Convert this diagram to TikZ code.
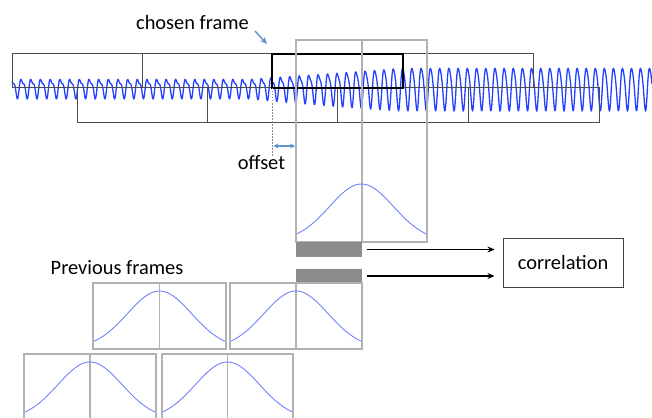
\documentclass[tikz,border=0pt]{standalone}
\usepackage{fontspec}
\setmainfont{Carlito}
\usepackage{tikz}
\usetikzlibrary{arrows.meta,calc,positioning}
\definecolor{waveblue}{RGB}{35,65,255}
\definecolor{gaussblue}{RGB}{110,130,255}
\definecolor{hintblue}{RGB}{90,150,205}
\definecolor{bargray}{RGB}{140,140,140}

\begin{document}
\begin{tikzpicture}[x=1pt, y=-1pt, font=\fontsize{20.4}{24}\selectfont,
  frame/.style={draw=black!70, line width=1pt},
  window/.style={draw=black!30, line width=1.2pt},
  gauss/.style={gaussblue, line width=0.9pt},
  bar/.style={fill=bargray, minimum width=66pt, minimum height=15pt, inner sep=0pt},
  arr/.style={-{Stealth[length=7pt,width=6pt]}, line width=1.2pt},
  hint/.style={hintblue, line width=1.4pt},
  declare function={ramp(\t)=min(max((\t-250)/150,0),1);
                    env(\t)=8.5+12.5*ramp(\t);
                    harm(\t)=0.4-0.25*ramp(\t);
                    cyc(\t)=mod(\t/9.8+0.0696*(\t/100)^2,1)*360;
                    bell(\t)=(exp(-(\t/32)^2/2)-0.127)/0.873;}]

\clip (0,0) rectangle (652,417);

% signal
\draw[waveblue, line width=1.3pt, line join=round]
  plot[domain=12:652, samples=1100] (\x, {87.5-env(\x)*(sin(cyc(\x))+harm(\x)*sin(2*cyc(\x)+50))});

% frames along the signal
\draw[frame] (12,54) rectangle (142,88);
\draw[frame] (142,54) rectangle (272,88);
\draw[frame] (402,54) rectangle (533,88);
\draw[frame] (77,88) rectangle (207,122);
\draw[frame] (207,88) rectangle (337,122);
\draw[frame] (337,88) rectangle (468,122);
\draw[frame] (468,88) rectangle (599,122);
\draw[line width=2.2pt] (272,54) rectangle (403,88);

\node (chosen) at (192.5,22) {chosen frame};
\coordinate (tail) at (255,31);
\coordinate (pick) at (267,44);
\draw[hint, -{Stealth[length=7pt,width=6pt]}] (tail) -- (pick);

% offset
\coordinate (cut) at (272.5,88);
\coordinate (cutend) at (272.5,156);
\draw[black!45, line width=1.5pt, dash pattern=on 1.5pt off 1.5pt] (cut) -- (cutend);
\coordinate (offL) at (273.5,146);
\coordinate (offR) at (295,146);
\draw[hint, {Stealth[length=5pt,width=5pt]}-{Stealth[length=5pt,width=5pt]}] (offL) -- (offR);
\node (offset) at (261.5,163) {offset};

% current window
\draw[window] (296,40) rectangle (427,242);
\draw[window] (362,40) -- (362,242);
\draw[gauss] plot[domain=297:426, samples=70] (\x, {234-50*bell(\x-361.5)});

\node[bar] (bar1) at (329,249.5) {};
\node[bar, minimum height=14pt] (bar2) at (329,276) {};

\node[draw=black!75, line width=1pt, minimum width=120pt, minimum height=49pt] (corr) at (563,262.5) {correlation};

\draw[arr, shorten <=5pt, shorten >=8pt] (bar1.east) -- (bar1.east -| corr.west);
\draw[arr, shorten <=5pt, shorten >=8pt] (bar2.east) -- (bar2.east -| corr.west);

% previous frames
\node (prev) at (117,268) {Previous frames};

\draw[window] (93,283) rectangle (226,349);
\draw[window] (159.5,283) -- (159.5,349);
\draw[gauss] plot[domain=94:225, samples=70] (\x, {341-50*bell(\x-159.5)});

\draw[window] (230,283) rectangle (362,349);
\draw[window] (296,283) -- (296,349);
\draw[gauss] plot[domain=231:361, samples=70] (\x, {341-50*bell(\x-296)});

\draw[window] (24,354) rectangle (156,420);
\draw[window] (90,354) -- (90,420);
\draw[gauss] plot[domain=25:155, samples=70] (\x, {412-50*bell(\x-90)});

\draw[window] (162,354) rectangle (293,420);
\draw[window] (227.5,354) -- (227.5,420);
\draw[gauss] plot[domain=163:292, samples=70] (\x, {412-50*bell(\x-227.5)});

\end{tikzpicture}
\end{document}
